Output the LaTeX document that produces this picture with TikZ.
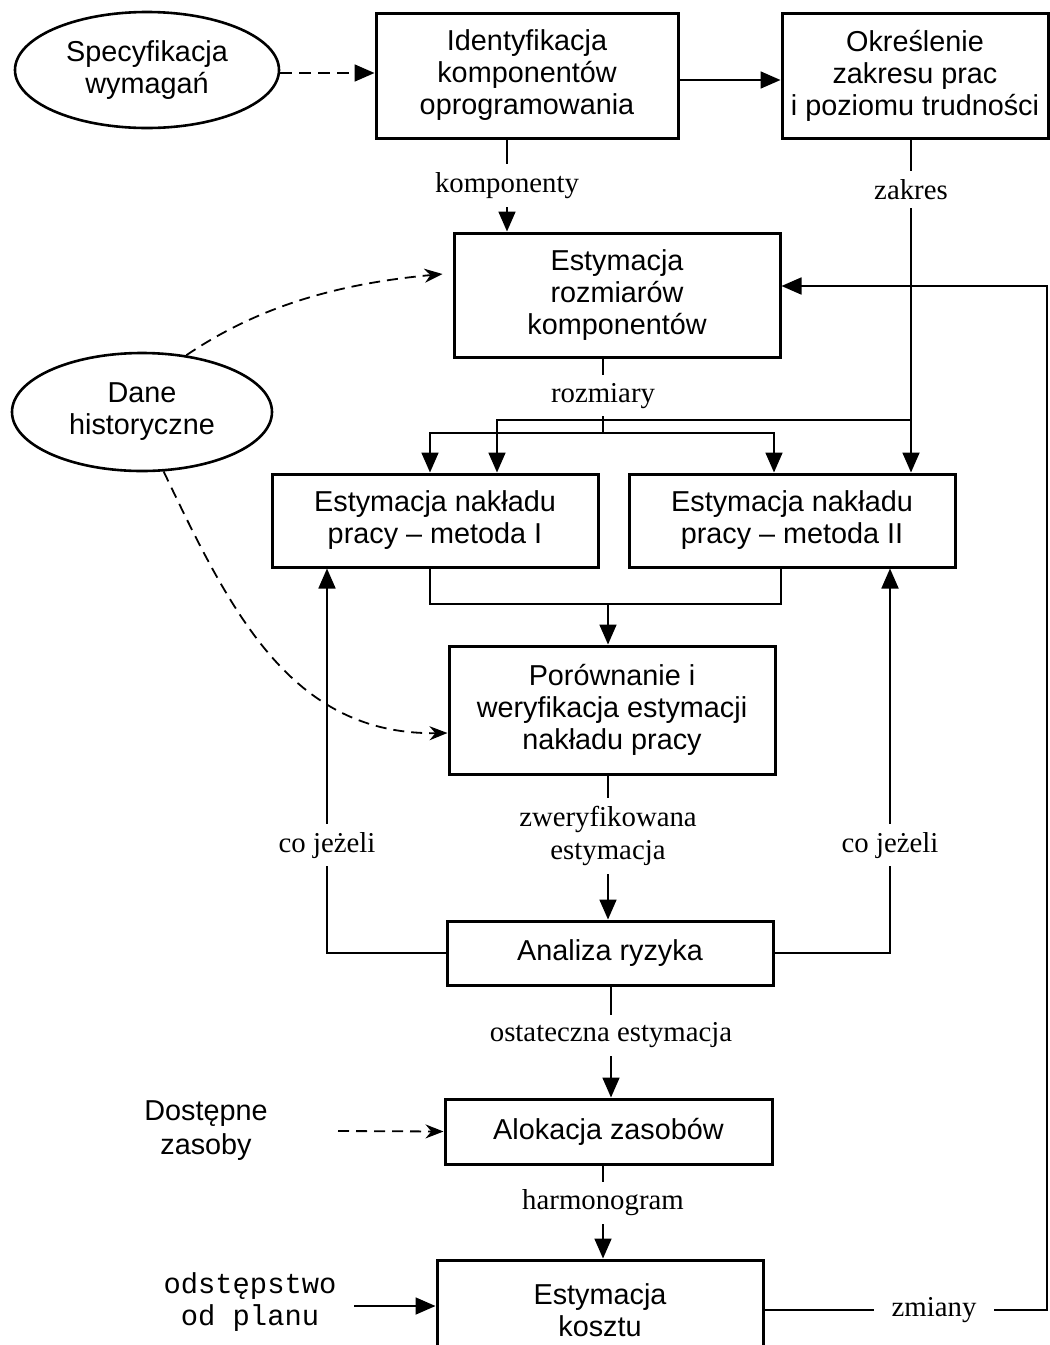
\documentclass[tikz,border=0pt]{standalone}
\usepackage{fontspec}
\setmainfont{Liberation Serif}
\setsansfont{Liberation Sans}
\setmonofont{Liberation Mono}
\usetikzlibrary{arrows.meta,shapes.geometric}
\tikzset{
    box/.style={draw, line width=1.5pt, align=center, inner sep=0pt, font=\sffamily\fontsize{14.4}{16}\selectfont},
    oval/.style={draw, ellipse, line width=1.3pt, align=center, inner sep=0pt, font=\sffamily\fontsize{14.4}{16}\selectfont},
    lbl/.style={fill=white, inner xsep=9pt, inner ysep=4pt, align=center, font=\rmfamily\fontsize{14.4}{16.5}\selectfont},
    arr/.style={line width=0.9pt, -{Triangle[length=10pt,width=8.5pt]}},
    darr/.style={line width=0.9pt, dash pattern=on 5.5pt off 3.5pt, -{Stealth[length=9pt,width=7pt]}},
    darrt/.style={line width=0.9pt, dash pattern=on 6pt off 3.5pt, -{Triangle[length=10pt,width=8.5pt]}},
}
\begin{document}
\begin{tikzpicture}[x=0.5pt, y=-0.5pt]
    \useasboundingbox (0,0) rectangle (1050,1345);
    \node[oval, minimum width=132pt, minimum height=58pt] (spec) at (147,70) {Specyfikacja\\wymagań};
    \node[oval, minimum width=130pt, minimum height=59pt] (dane) at (142,412) {Dane\\historyczne};
    \node[box, minimum width=151pt, minimum height=62.5pt] (ident) at (527,75.5) {Identyfikacja\\komponentów\\oprogramowania};
    \node[box, minimum width=133pt, minimum height=62.5pt] (okresl) at (915,75.5) {Określenie\\zakresu prac\\i poziomu trudności};
    \node[box, minimum width=163pt, minimum height=62pt] (rozm) at (617,295) {Estymacja\\rozmiarów\\komponentów};
    \node[box, minimum width=163pt, minimum height=46.5pt] (met1) at (435,520.5) {Estymacja nakładu\\pracy – metoda I};
    \node[box, minimum width=163pt, minimum height=46.5pt] (met2) at (792,520.5) {Estymacja nakładu\\pracy – metoda II};
    \node[box, minimum width=163pt, minimum height=64pt] (porown) at (612,710) {Porównanie i\\weryfikacja estymacji\\nakładu pracy};
    \node[box, minimum width=163pt, minimum height=32pt] (analiza) at (610,953) {Analiza ryzyka};
    \node[box, minimum width=163.5pt, minimum height=32.5pt] (alok) at (608.5,1131.5) {Alokacja zasobów};
    \node[box, minimum width=163pt, minimum height=50pt] (koszt) at (600,1310) {Estymacja\\kosztu};
    \node[align=center, font=\sffamily\fontsize{14.4}{17}\selectfont] (dostep) at (206,1131) {Dostępne\\zasoby};
    \node[align=center, font=\ttfamily\fontsize{14.4}{16}\selectfont] (odstep) at (250,1302) {odstępstwo\\od planu};

    \coordinate (kx) at (507,0);
    \coordinate (zx) at (911,420);
    \coordinate (rx) at (603,433);
    \coordinate (a1) at (430,0);
    \coordinate (a2) at (497,0);
    \coordinate (b1) at (774,0);
    \coordinate (b3) at (781,0);
    \coordinate (mj) at (608,604);
    \coordinate (l1) at (327,0);
    \coordinate (r1) at (890,0);
    \coordinate (ox) at (611,0);
    \coordinate (hx) at (603,0);
    \coordinate (fb) at (1047,0);
    \coordinate (ds) at (338,1131);
    \coordinate (os) at (354,1306);

    \draw[darrt] ([yshift=-1.5pt]spec.east) -- ([yshift=-1.5pt]spec.east -| ident.west);
    \draw[arr] ([yshift=-2.25pt]ident.east) -- ([yshift=-2.25pt]okresl.west);
    \draw[arr] (ident.south -| kx) -- node[lbl]{komponenty} (rozm.north -| kx);
    \draw[arr] (okresl.south -| zx) -- node[lbl, pos=.15]{zakres} (met2.north -| zx);
    \draw[arr] (zx) -| (met1.north -| a2);
    \draw[line width=0.9pt] (rozm.south -| rx) -- node[lbl]{rozmiary} (rx);
    \draw[arr] (rx) -| (met1.north -| a1);
    \draw[arr] (rx) -| (met2.north -| b1);
    \draw[line width=0.9pt] (met1.south -| a1) |- (mj) -| (met2.south -| b3);
    \draw[arr] (mj) -- (porown.north -| mj);
    \draw[arr] (porown.south -| mj) -- node[lbl, pos=.42]{zweryfikowana\\estymacja} (analiza.north -| mj);
    \draw[arr] (analiza.west) -| node[lbl, pos=.64]{co jeżeli} (met1.south -| l1);
    \draw[arr] (analiza.east) -| node[lbl, pos=.64]{co jeżeli} (met2.south -| r1);
    \draw[arr] (analiza.south -| ox) -- node[lbl, pos=.44]{ostateczna estymacja} (alok.north -| ox);
    \draw[arr] (alok.south -| hx) -- node[lbl, pos=.4]{harmonogram} (koszt.north -| hx);
    \draw[darr] (ds) -- (alok.west);
    \draw[arr] (os) -- (os -| koszt.west);
    \draw[arr] (koszt.east) -- node[lbl, pos=.6]{zmiany} (koszt.east -| fb) |- ([yshift=4.5pt]rozm.east);
    \draw[darr] (dane.52) .. controls (256,308) and (334,284) .. ([xshift=-5pt,yshift=10.5pt]rozm.west);
    \draw[darr] (dane.-70) .. controls (230,610) and (290,735) .. ([yshift=-11.5pt]porown.west);
\end{tikzpicture}
\end{document}
